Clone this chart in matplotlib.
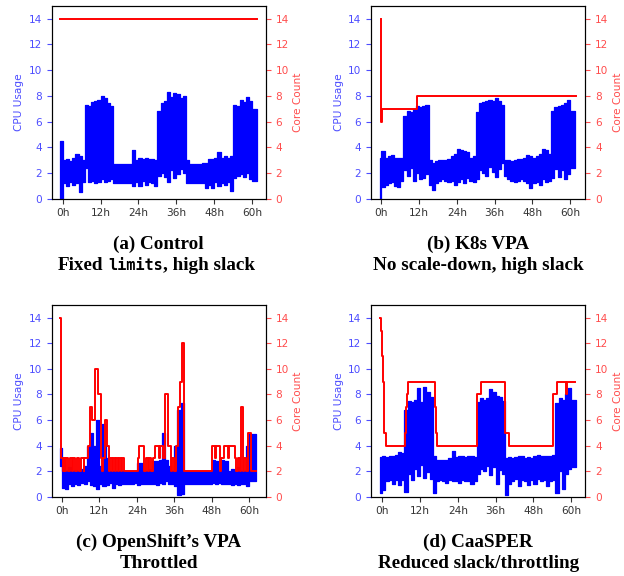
import numpy as np
import matplotlib.pyplot as plt

# hourly samples (bin centres), CPU usage envelope
hours = np.arange(62) - 0.5

cpu_lo_a = [0.0, 1.2, 1.0, 1.3, 1.1, 1.2, 0.5, 1.3, 2.4, 1.3, 1.4, 1.2, 1.3, 1.5, 1.3, 1.4,
            1.5, 1.2, 1.2, 1.2, 1.2, 1.2, 1.2, 1.0, 1.3, 1.0, 1.4, 1.1, 1.3, 1.2, 1.0, 1.8,
            2.0, 1.7, 1.3, 2.2, 1.6, 1.9, 2.3, 2.0, 1.2, 1.2, 1.2, 1.2, 1.2, 1.2, 0.8, 1.1,
            0.8, 1.3, 1.0, 1.2, 1.1, 1.3, 0.6, 1.6, 1.8, 1.9, 1.7, 2.0, 1.5, 1.4]
cpu_hi_a = [4.5, 3.0, 3.1, 2.9, 3.2, 3.5, 3.3, 3.0, 7.3, 7.2, 7.5, 7.6, 7.7, 8.0, 7.8, 7.4,
            7.2, 2.7, 2.7, 2.7, 2.7, 2.7, 2.7, 3.8, 3.0, 3.2, 3.1, 3.2, 3.1, 3.1, 3.0, 6.8,
            7.4, 7.6, 8.3, 7.9, 8.2, 8.1, 7.8, 8.0, 3.0, 2.7, 2.7, 2.7, 2.7, 2.8, 2.8, 3.1,
            3.1, 3.2, 3.6, 3.2, 3.3, 3.2, 3.3, 7.3, 7.2, 7.7, 7.5, 7.9, 7.6, 7.0]

cpu_lo_b = [0.0, 0.9, 1.1, 1.2, 1.3, 1.0, 0.9, 1.4, 2.2, 1.8, 2.4, 1.4, 2.0, 1.5, 1.6, 1.9,
            1.1, 0.7, 1.2, 1.4, 1.5, 1.4, 1.3, 1.4, 1.1, 1.3, 1.5, 1.2, 1.6, 1.4, 1.3, 1.5,
            2.2, 2.0, 1.8, 2.5, 2.1, 1.7, 2.3, 2.8, 1.8, 1.5, 1.4, 1.3, 1.4, 1.5, 1.4, 1.2,
            0.8, 1.2, 1.3, 1.1, 1.5, 1.3, 1.4, 1.6, 2.3, 1.7, 2.2, 1.5, 1.9, 2.4]
cpu_hi_b = [3.2, 3.7, 3.2, 3.3, 3.4, 3.2, 3.2, 3.2, 6.4, 6.8, 6.7, 7.0, 7.2, 7.1, 7.2, 7.3,
            3.0, 2.8, 2.9, 3.0, 3.0, 3.0, 3.1, 3.3, 3.5, 3.9, 3.8, 3.7, 3.6, 3.2, 3.3, 6.7,
            7.4, 7.5, 7.6, 7.7, 7.6, 7.8, 7.6, 7.3, 3.0, 3.0, 2.9, 3.0, 3.1, 3.1, 3.2, 3.4,
            3.3, 3.2, 3.3, 3.5, 3.9, 3.8, 3.5, 6.8, 7.1, 7.2, 7.3, 7.4, 7.7, 6.8]

cpu_lo_c = [2.4, 0.7, 0.6, 1.0, 0.8, 1.0, 0.9, 1.1, 1.0, 1.2, 0.9, 0.8, 0.6, 1.0, 0.8, 0.9,
            1.1, 0.7, 1.0, 0.9, 1.0, 1.0, 1.0, 1.0, 1.1, 0.9, 1.0, 1.0, 1.0, 1.0, 1.0, 0.9,
            1.1, 1.0, 1.2, 1.0, 1.0, 0.8, 0.1, 0.2, 1.0, 1.0, 1.0, 1.0, 1.0, 1.0, 1.0, 1.0,
            1.0, 1.1, 1.0, 1.1, 1.0, 1.0, 1.0, 0.9, 1.0, 0.9, 1.0, 1.0, 0.8, 1.2]
cpu_hi_c = [3.8, 2.0, 2.0, 2.3, 2.0, 2.1, 2.0, 2.2, 2.4, 4.0, 5.0, 4.0, 6.0, 2.4, 5.7, 3.0,
            2.0, 2.0, 2.0, 2.0, 2.0, 2.0, 2.0, 2.0, 2.0, 2.6, 2.6, 2.0, 2.0, 2.2, 2.8, 2.8,
            2.9, 5.0, 2.9, 2.4, 2.0, 4.0, 6.8, 7.3, 2.0, 2.0, 2.0, 2.0, 2.0, 2.0, 2.0, 2.0,
            2.0, 2.9, 2.8, 2.0, 2.9, 2.8, 2.0, 2.2, 2.0, 2.3, 2.0, 2.0, 4.0, 4.9]

cpu_lo_d = [0.3, 0.5, 1.2, 1.3, 1.0, 1.3, 0.9, 1.3, 0.4, 1.8, 1.3, 2.2, 1.6, 2.5, 1.5, 1.9,
            1.4, 0.3, 1.2, 1.3, 1.2, 1.1, 1.3, 1.2, 1.2, 1.1, 1.3, 1.2, 1.2, 1.0, 1.2, 1.8,
            2.2, 2.0, 2.4, 1.7, 2.3, 1.0, 2.1, 1.8, 0.1, 1.0, 1.2, 1.4, 0.8, 1.3, 1.2, 0.9,
            1.3, 1.0, 1.4, 1.2, 1.3, 0.8, 1.2, 1.3, 0.3, 2.0, 0.6, 1.8, 2.2, 2.3]
cpu_hi_d = [3.1, 3.2, 3.1, 3.2, 3.2, 3.3, 3.5, 3.4, 6.8, 7.5, 7.4, 7.6, 8.5, 7.4, 8.6, 8.2,
            7.8, 3.2, 2.9, 2.9, 2.9, 2.9, 3.0, 3.6, 3.1, 3.2, 3.2, 3.1, 3.2, 3.2, 3.1, 7.4,
            7.7, 7.6, 7.7, 8.4, 8.2, 7.9, 7.8, 7.5, 3.0, 3.1, 3.0, 3.1, 3.2, 3.2, 3.0, 3.1,
            3.0, 3.2, 3.3, 3.2, 3.2, 3.2, 3.2, 3.3, 7.3, 7.7, 7.6, 8.0, 8.5, 7.6]

# start / end of each trace (hours)
span_a = (-0.8, 61.5)
span_b = (-0.5, 61.5)
span_c = (-0.45, 62.0)
span_d = (-0.6, 61.5)

# core count, step changes (time in hours, value after change)
core_t_a = [-0.8, 61.5]
core_v_a = [14, 14]

core_t_b = [-0.1, 0.0, 0.15, 11.4, 61.7]
core_v_b = [14, 6, 7, 8, 8]

core_t_c = [-0.5, -0.3, 0.3, 0.6, 1.2, 1.5, 2.0, 2.6, 3.3, 3.6, 4.4, 5.0, 5.6, 6.2, 7.0,
            7.2, 8.5, 9.2, 9.8, 10.5, 11.5, 12.5, 13.0, 13.3, 13.7, 14.5, 15.0, 15.3, 16.0,
            16.4, 17.0, 17.4, 18.0, 18.4, 19.0, 19.4, 20.0, 24.4, 24.7, 26.3, 26.8, 27.5,
            28.0, 28.6, 29.3, 29.7, 31.2, 31.5, 32.5, 33.0, 34.0, 35.0, 35.3, 36.0, 36.6,
            37.2, 37.9, 38.3, 39.1, 48.0, 49.0, 49.4, 50.6, 51.0, 51.8, 53.0, 53.4, 55.4,
            55.8, 56.3, 57.0, 57.4, 58.0, 58.3, 59.0, 59.4, 60.4, 62.0]
core_v_c = [14, 3, 2, 3, 2, 3, 2, 3, 2, 3, 2, 3, 2, 3, 2,
            3, 4, 7, 6, 10, 8, 3, 2, 3, 6, 4, 2, 3, 2,
            3, 2, 3, 2, 3, 2, 3, 2, 3, 4, 2, 3, 2,
            3, 2, 3, 4, 3, 4, 3, 8, 4, 2, 3, 2, 4,
            7, 9, 12, 2, 4, 3, 4, 2, 3, 4, 3, 4, 3,
            2, 3, 2, 7, 2, 3, 2, 5, 2, 2]

core_t_d = [-0.6, -0.4, -0.2, 0.1, 0.4, 0.6, 1.3, 7.2, 7.4, 7.7, 8.3, 16.6, 16.9, 17.4,
            30.2, 31.5, 39.1, 40.3, 54.2, 55.5, 58.3, 58.8, 61.3]
core_v_d = [14, 13, 11, 9, 6, 5, 4, 5, 7, 8, 9, 7, 5, 4,
            8, 9, 5, 4, 8, 9, 8, 9, 9]

xticks = [0, 12, 24, 36, 48, 60]
xticklabels = ['0h', '12h', '24h', '36h', '48h', '60h']
yticks = [0, 2, 4, 6, 8, 10, 12, 14]

captions = [
    ('(a) Control', [('Fixed', 'serif'), ('limits', 'mono'), (', high slack', 'serif')]),
    ('(b) K8s VPA', [('No scale-down, high slack', 'serif')]),
    ('(c) OpenShift\u2019s VPA', [('Throttled', 'serif')]),
    ('(d) CaaSPER', [('Reduced slack/throttling', 'serif')]),
]

W, H = 624, 576
fig = plt.figure(figsize=(W / 100, H / 100), dpi=100)

boxes = [(51.7, 5.7, 265.7, 198.7), (371.0, 5.7, 585.3, 198.7),
         (51.7, 305.0, 265.7, 496.7), (371.0, 305.0, 585.3, 496.7)]
xlims = [(-3.5, 64.3), (-3.3, 64.8), (-3.2, 65.2), (-3.6, 64.5)]
cap_y = [(249.3, 270.0), (249.3, 270.0), (547.3, 568.3), (547.3, 568.3)]

blue_lab = '#4d4dff'
red_lab = '#ff4d4d'
fs = 7.6
cap_fs = 13.8

data = [
    (cpu_lo_a, cpu_hi_a, span_a, core_t_a, core_v_a),
    (cpu_lo_b, cpu_hi_b, span_b, core_t_b, core_v_b),
    (cpu_lo_c, cpu_hi_c, span_c, core_t_c, core_v_c),
    (cpu_lo_d, cpu_hi_d, span_d, core_t_d, core_v_d),
]

renderer = fig.canvas.get_renderer()

for i, (lo, hi, span, ct, cv) in enumerate(data):
    x0, y0, x1, y1 = boxes[i]
    ax = fig.add_axes([x0 / W, 1 - y1 / H, (x1 - x0) / W, (y1 - y0) / H])
    t = np.concatenate([[span[0]], hours, [span[1]]])
    lo_ = np.concatenate([[lo[0]], lo, [lo[-1]]])
    hi_ = np.concatenate([[hi[0]], hi, [hi[-1]]])
    ax.fill_between(t, lo_, hi_, step='mid', color='blue', lw=0.9)
    ax.set_xlim(*xlims[i])
    ax.set_ylim(0, 15)
    ax.set_yticks(yticks)
    ax.set_xticks(xticks)
    ax.set_xticklabels(xticklabels)
    ax.tick_params(axis='x', labelsize=fs, colors='#333333')
    ax.tick_params(axis='y', labelsize=fs, colors=blue_lab)
    ax.set_ylabel('CPU Usage', color=blue_lab, fontsize=fs, labelpad=3)

    ax2 = ax.twinx()
    ax2.step(ct, cv, where='post', color='red', lw=1.4)
    ax2.set_ylim(0, 15)
    ax2.set_yticks(yticks)
    ax2.tick_params(axis='y', labelsize=fs, colors=red_lab)
    ax2.set_ylabel('Core Count', color=red_lab, fontsize=fs, labelpad=3)

    # two-line caption under each panel
    xc = (x0 + x1) / 2
    title, parts = captions[i]
    fig.text(xc / W, 1 - cap_y[i][0] / H, title, ha='center', va='baseline',
             fontfamily='Liberation Serif', fontweight='bold', fontsize=cap_fs)
    pieces = []
    for s, kind in parts:
        fam = 'DejaVu Sans Mono' if kind == 'mono' else 'Liberation Serif'
        size = 11.0 if kind == 'mono' else cap_fs
        pieces.append(fig.text(0, 1 - cap_y[i][1] / H, s, ha='left', va='baseline',
                               fontfamily=fam, fontweight='bold', fontsize=size))
    gap = 4.7
    widths = [p.get_window_extent(renderer).width for p in pieces]
    total = sum(widths) + gap * (len(pieces) - 1)
    x = xc - total / 2
    for k, (p, w) in enumerate(zip(pieces, widths)):
        p.set_x(x / W)
        x += w + (gap if k == 0 else 0)

fig.savefig('out.png', dpi=100)
